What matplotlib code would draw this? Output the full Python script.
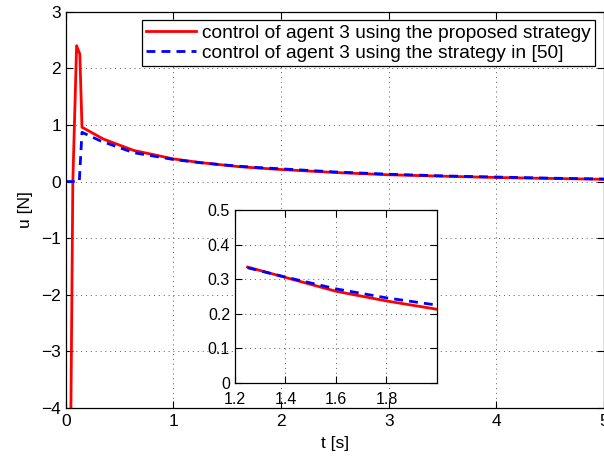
import numpy as np
import matplotlib
matplotlib.use("Agg")
import matplotlib.pyplot as plt

plt.rcParams['font.family'] = ['Liberation Sans', 'DejaVu Sans']

# proposed strategy (red)
t_red = [0.0, 0.045, 0.065, 0.10, 0.13, 0.15, 0.35, 0.63, 1.0, 1.25, 1.4, 1.6, 1.8, 2.0,
         2.5, 3.0, 3.5, 4.0, 4.5, 5.0]
u_red = [-50.0, -4.5, 0.0, 2.4, 2.25, 0.96, 0.75, 0.55, 0.40, 0.335, 0.305, 0.265, 0.237, 0.213,
         0.16, 0.12, 0.095, 0.072, 0.055, 0.04]
# strategy in [50] (blue)
t_blue = [0.0, 0.125, 0.15, 0.32, 0.63, 1.0, 1.25, 1.4, 1.6, 1.8, 2.0,
          2.5, 3.0, 3.5, 4.0, 4.5, 5.0]
u_blue = [0.0, 0.0, 0.87, 0.72, 0.51, 0.39, 0.333, 0.306, 0.272, 0.246, 0.225,
          0.17, 0.13, 0.10, 0.08, 0.06, 0.045]

label_red = 'control of agent 3 using the proposed strategy'
label_blue = 'control of agent 3 using the strategy in [50]'
xticks = [0, 1, 2, 3, 4, 5]
yticks = [-4, -3, -2, -1, 0, 1, 2, 3]
inset_xticks = [1.2, 1.4, 1.6, 1.8]
inset_yticks = [0, 0.1, 0.2, 0.3, 0.4, 0.5]
inset_start = 1.25

fig = plt.figure(figsize=(6.04, 4.59), dpi=100)
ax = fig.add_axes([0.109, 0.111, 0.891, 0.8635])

def style(a, fs):
    a.tick_params(direction='in', top=True, right=True, labelsize=fs, length=5, width=0.8)
    for s in a.spines.values():
        s.set_linewidth(0.9)
    a.grid(True, linestyle=(0, (1, 4)), color='0.35', linewidth=0.7)

ax.plot(t_red, u_red, color='#ff0000', lw=2.0, label=label_red)
ax.plot(t_blue, u_blue, color='#0000ff', lw=2.0, dashes=(3.2, 2.2), label=label_blue)
ax.set_xlim(0, 5)
ax.set_ylim(-4, 3)
ax.set_xticks(xticks)
ax.set_yticks(yticks)
style(ax, 12.5)
ax.tick_params(axis='x', pad=4.5)
ax.set_xlabel('t [s]', fontsize=12.5, labelpad=5)
ax.set_ylabel('u [N]', fontsize=12.5, labelpad=6)
leg = ax.legend(loc='upper right', fontsize=13.8, fancybox=False, edgecolor='black',
                framealpha=1, borderpad=0.22, handlelength=2.6, labelspacing=0.12,
                handletextpad=0.35, borderaxespad=0.45)
leg.get_frame().set_linewidth(0.9)

ins = fig.add_axes([0.389, 0.1656, 0.3345, 0.377])
tr = np.array(t_red); ur = np.array(u_red)
tb = np.array(t_blue); ub = np.array(u_blue)
mr = tr >= inset_start
mb = tb >= inset_start
ins.plot(tr[mr], ur[mr], color='#ff0000', lw=2.0)
ins.plot(tb[mb], ub[mb], color='#0000ff', lw=2.0, dashes=(3.2, 2.2))
ins.set_xlim(1.2, 2.0)
ins.set_ylim(0, 0.5)
ins.set_xticks(inset_xticks)
ins.set_yticks(inset_yticks)
ins.set_xticklabels([str(v) for v in inset_xticks])
ins.set_yticklabels(['0', '0.1', '0.2', '0.3', '0.4', '0.5'])
style(ins, 11.5)
ins.tick_params(axis='x', pad=6.5)

fig.savefig('out.png', dpi=100)
